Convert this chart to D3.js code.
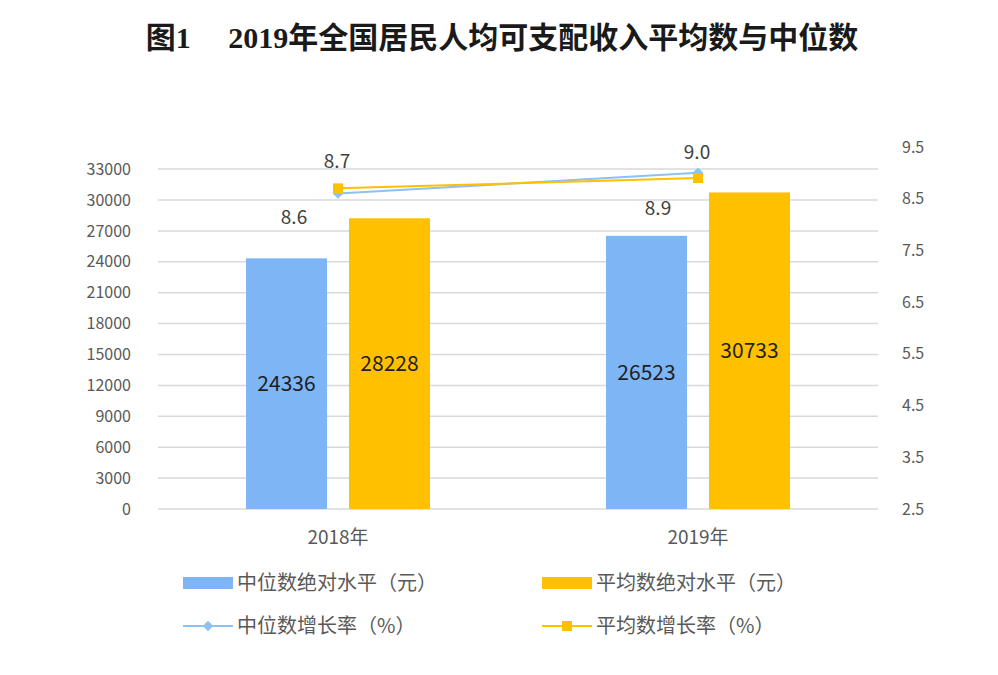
<!DOCTYPE html>
<html><head><meta charset="utf-8">
<script src="https://cdn.jsdelivr.net/npm/d3@7/dist/d3.min.js"></script>
<style>body{margin:0;background:#fff;}svg{display:block;}</style>
</head><body>
<svg id="c" width="998" height="675"></svg>
<script>
const categories = ["2018年", "2019年"];
const medianValues = [24336, 26523];
const meanValues = [28228, 30733];
const medianGrowth = [8.6, 9.0];
const meanGrowth = [8.7, 8.9];
const leftTicks = [0,3000,6000,9000,12000,15000,18000,21000,24000,27000,30000,33000];
const rightTicks = [2.5,3.5,4.5,5.5,6.5,7.5,8.5,9.5];
const seriesNames = ["中位数绝对水平（元）","平均数绝对水平（元）","中位数增长率（%）","平均数增长率（%）"];
const titleText = "图1\u3000 2019年全国居民人均可支配收入平均数与中位数";

const svg = d3.select("#c");
const plotL = 158, plotR = 878, plotT = 148.5, plotB = 509;
const cBlue = "#7DB5F5", cOrange = "#FFC000", cLineBlue = "#8EC0F2";
const axisColor = "#595959";
const cjk = "'Noto Sans CJK SC', 'Microsoft YaHei', sans-serif";

const x = d3.scaleBand().domain(categories).range([plotL, plotR]);
const yL = d3.scaleLinear().domain([0, 35000]).range([plotB, plotT]);
const yR = d3.scaleLinear().domain([2.5, 9.5]).range([plotB, plotT - 1.5]);

// title
svg.append("text").attr("x", 502).attr("y", 48).attr("text-anchor", "middle")
  .attr("font-family", "'Liberation Serif', 'Noto Sans CJK SC', serif").attr("font-weight", "bold")
  .attr("font-size", 30).attr("fill", "#1a1a1a").text(titleText);

// gridlines
svg.append("g").selectAll("line").data(leftTicks).join("line")
  .attr("x1", plotL).attr("x2", plotR)
  .attr("y1", d => yL(d)).attr("y2", d => yL(d))
  .attr("stroke", "#d9d9d9").attr("stroke-width", 1.5);

// left axis
const gL = svg.append("g").attr("transform", `translate(${plotL - 27},0)`)
  .call(d3.axisLeft(yL).tickValues(leftTicks).tickSize(0).tickPadding(0).tickFormat(d3.format("d")));
gL.select(".domain").remove();
gL.selectAll("text").attr("font-family", cjk).attr("font-size", 16).attr("fill", axisColor);

// right axis
const gR = svg.append("g").attr("transform", `translate(${plotR + 24},0)`)
  .call(d3.axisRight(yR).tickValues(rightTicks).tickSize(0).tickPadding(0).tickFormat(d3.format(".1f")));
gR.select(".domain").remove();
gR.selectAll("text").attr("font-family", cjk).attr("font-size", 16).attr("fill", axisColor);

// x axis labels
const gX = svg.append("g").attr("transform", `translate(0,${plotB + 21})`)
  .call(d3.axisBottom(x).tickSize(0).tickPadding(0));
gX.select(".domain").remove();
gX.selectAll("text").attr("font-family", cjk).attr("font-size", 19).attr("fill", axisColor).attr("dy", "0.71em");

// bars
const barW = 81, gap = 11;
const cx = d => x(d) + x.bandwidth() / 2;
const bars = [
  {vals: medianValues, color: cBlue, off: -gap - barW},
  {vals: meanValues, color: cOrange, off: gap}
];
bars.forEach(s => {
  const g = svg.append("g");
  g.selectAll("rect").data(categories).join("rect")
    .attr("x", d => cx(d) + s.off).attr("width", barW)
    .attr("y", (d, i) => yL(s.vals[i])).attr("height", (d, i) => plotB - yL(s.vals[i]))
    .attr("fill", s.color);
  g.selectAll("text").data(categories).join("text")
    .attr("x", d => cx(d) + s.off + barW / 2)
    .attr("y", (d, i) => (yL(s.vals[i]) + plotB) / 2)
    .attr("dy", "0.35em").attr("text-anchor", "middle")
    .attr("font-family", cjk).attr("font-size", 21).attr("fill", "#1f1f1f")
    .text((d, i) => s.vals[i]);
});

// lines
const line = vals => d3.line().x((d, i) => cx(categories[i])).y(d => yR(d))(vals);
svg.append("path").attr("d", line(medianGrowth)).attr("fill", "none").attr("stroke", cLineBlue).attr("stroke-width", 2);
svg.append("path").attr("d", line(meanGrowth)).attr("fill", "none").attr("stroke", cOrange).attr("stroke-width", 2);
// markers
svg.append("g").selectAll("path").data(medianGrowth).join("path")
  .attr("d", d3.symbol(d3.symbolDiamond2, 70)())
  .attr("transform", (d, i) => `translate(${cx(categories[i])},${yR(d)})`).attr("fill", cLineBlue);
svg.append("g").selectAll("rect").data(meanGrowth).join("rect")
  .attr("x", (d, i) => cx(categories[i]) - 5).attr("y", d => yR(d) - 5)
  .attr("width", 10).attr("height", 10).attr("fill", cOrange);

// line labels: upper label = larger of the two, lower label = smaller
const upperOff = [-20, -14], lowerX = [-44, -40], lowerOff = [30, 37];
const hi = categories.map((c, i) => Math.max(medianGrowth[i], meanGrowth[i]));
const lo = categories.map((c, i) => Math.min(medianGrowth[i], meanGrowth[i]));
svg.append("g").selectAll("text").data(hi).join("text")
  .attr("x", (d, i) => cx(categories[i]) - 1).attr("y", (d, i) => yR(d) + upperOff[i])
  .attr("text-anchor", "middle").attr("font-family", cjk).attr("font-size", 19).attr("fill", "#404040")
  .text(d => d.toFixed(1));
svg.append("g").selectAll("text").data(lo).join("text")
  .attr("x", (d, i) => cx(categories[i]) + lowerX[i]).attr("y", (d, i) => yR(d) + lowerOff[i])
  .attr("text-anchor", "middle").attr("font-family", cjk).attr("font-size", 19).attr("fill", "#404040")
  .text(d => d.toFixed(1));

// legend
const leg = svg.append("g").attr("font-family", cjk).attr("font-size", 20).attr("fill", axisColor);
const legPos = [[183, 583], [542, 583], [183, 626], [542, 626]];
[0, 1].forEach(i => {
  leg.append("rect").attr("x", legPos[i][0]).attr("y", legPos[i][1] - 6).attr("width", 50).attr("height", 12)
    .attr("fill", i === 0 ? cBlue : cOrange);
});
[2, 3].forEach(i => {
  const col = i === 2 ? cLineBlue : cOrange;
  leg.append("line").attr("x1", legPos[i][0]).attr("x2", legPos[i][0] + 50)
    .attr("y1", legPos[i][1]).attr("y2", legPos[i][1]).attr("stroke", col).attr("stroke-width", 2);
  if (i === 2) leg.append("path").attr("d", d3.symbol(d3.symbolDiamond2, 70)())
    .attr("transform", `translate(${legPos[i][0] + 25},${legPos[i][1]})`).attr("fill", col);
  else leg.append("rect").attr("x", legPos[i][0] + 20).attr("y", legPos[i][1] - 5).attr("width", 10).attr("height", 10).attr("fill", col);
});
seriesNames.forEach((n, i) => {
  leg.append("text").attr("x", legPos[i][0] + 54).attr("y", legPos[i][1]).attr("dy", "0.35em").text(n);
});
</script>
</body></html>
